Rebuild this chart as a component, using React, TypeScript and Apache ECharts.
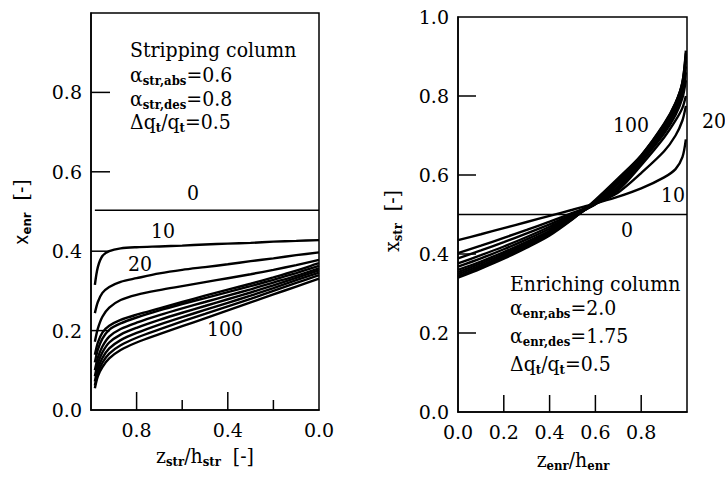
import React, { useEffect, useRef } from 'react';
import * as echarts from 'echarts';

const SERIF = 'DejaVu Serif';
const SANS = 'DejaVu Sans';

// ---- Stripping column (left panel) ----
const X_STR = [0.983, 0.97, 0.95, 0.92, 0.87, 0.8, 0.7, 0.6, 0.5, 0.4, 0.3, 0.2, 0.1, 0.0];
const STR_0 = [0.503, 0.503, 0.503, 0.503, 0.503, 0.503, 0.503, 0.503, 0.503, 0.503, 0.503, 0.503, 0.503, 0.503];
const STR_10 = [0.315, 0.36, 0.388, 0.4, 0.407, 0.41, 0.412, 0.414, 0.417, 0.419, 0.421, 0.424, 0.426, 0.428];
const STR_20 = [0.244, 0.272, 0.295, 0.31, 0.323, 0.332, 0.344, 0.353, 0.36, 0.367, 0.375, 0.382, 0.39, 0.397];
const STR_30 = [0.172, 0.205, 0.235, 0.258, 0.277, 0.29, 0.302, 0.312, 0.322, 0.332, 0.342, 0.353, 0.365, 0.378];
const STR_40 = [0.139, 0.17, 0.195, 0.212, 0.227, 0.24, 0.256, 0.272, 0.288, 0.303, 0.318, 0.334, 0.351, 0.37];
const STR_50 = [0.12, 0.152, 0.18, 0.202, 0.218, 0.233, 0.251, 0.267, 0.282, 0.297, 0.312, 0.328, 0.345, 0.363];
const STR_60 = [0.1, 0.132, 0.16, 0.185, 0.204, 0.22, 0.239, 0.256, 0.272, 0.288, 0.304, 0.321, 0.338, 0.357];
const STR_70 = [0.085, 0.117, 0.145, 0.17, 0.19, 0.207, 0.227, 0.245, 0.262, 0.279, 0.296, 0.314, 0.333, 0.352];
const STR_80 = [0.072, 0.104, 0.131, 0.155, 0.176, 0.194, 0.215, 0.234, 0.252, 0.27, 0.288, 0.307, 0.327, 0.346];
const STR_90 = [0.062, 0.093, 0.119, 0.142, 0.163, 0.182, 0.203, 0.223, 0.242, 0.261, 0.28, 0.3, 0.32, 0.34];
const STR_100 = [0.055, 0.085, 0.108, 0.13, 0.151, 0.17, 0.191, 0.211, 0.231, 0.251, 0.271, 0.291, 0.311, 0.331];
const STR_CURVES = [STR_0, STR_10, STR_20, STR_30, STR_40, STR_50, STR_60, STR_70, STR_80, STR_90, STR_100];

// ---- Enriching column (right panel) ----
const X_ENR = [0, 0.1, 0.2, 0.3, 0.4, 0.5, 0.55, 0.6, 0.7, 0.8, 0.9, 0.95, 0.98, 0.995];
const ENR_0_X = [0, 1];
const ENR_0_Y = [0.5, 0.5];
const ENR_10 = [0.435, 0.45, 0.4655, 0.481, 0.4965, 0.512, 0.52, 0.528, 0.545, 0.566, 0.594, 0.615, 0.645, 0.69];
const ENR_20 = [0.402, 0.421, 0.441, 0.461, 0.482, 0.504, 0.515, 0.527, 0.556, 0.605, 0.66, 0.7, 0.738, 0.775];
const ENR_30 = [0.389, 0.409, 0.43, 0.452, 0.475, 0.5, 0.513, 0.527, 0.562, 0.625, 0.695, 0.738, 0.77, 0.8];
const ENR_40 = [0.376, 0.397, 0.419, 0.443, 0.469, 0.497, 0.511, 0.526, 0.566, 0.632, 0.705, 0.752, 0.795, 0.84];
const ENR_50 = [0.368, 0.389, 0.412, 0.437, 0.464, 0.494, 0.51, 0.527, 0.572, 0.637, 0.712, 0.762, 0.808, 0.86];
const ENR_60 = [0.36, 0.381, 0.405, 0.431, 0.459, 0.492, 0.51, 0.529, 0.578, 0.642, 0.718, 0.77, 0.818, 0.875];
const ENR_70 = [0.354, 0.376, 0.4, 0.427, 0.456, 0.491, 0.51, 0.531, 0.583, 0.645, 0.722, 0.776, 0.826, 0.89];
const ENR_80 = [0.349, 0.371, 0.396, 0.423, 0.453, 0.49, 0.51, 0.533, 0.586, 0.647, 0.726, 0.78, 0.831, 0.9];
const ENR_90 = [0.344, 0.367, 0.392, 0.419, 0.45, 0.489, 0.511, 0.535, 0.589, 0.649, 0.728, 0.782, 0.834, 0.908];
const ENR_100 = [0.34, 0.363, 0.388, 0.416, 0.447, 0.488, 0.512, 0.537, 0.592, 0.65, 0.73, 0.783, 0.835, 0.915];
const ENR_CURVES = [ENR_10, ENR_20, ENR_30, ENR_40, ENR_50, ENR_60, ENR_70, ENR_80, ENR_90, ENR_100];

// tick labels and tick positions
const LEFT_X_LABELS = ['0.8', '0.4', '0.0'];
const LEFT_Y_LABELS = ['0.0', '0.2', '0.4', '0.6', '0.8'];
const RIGHT_X_LABELS = ['0.0', '0.2', '0.4', '0.6', '0.8'];
const RIGHT_Y_LABELS = ['0.0', '0.2', '0.4', '0.6', '0.8', '1.0'];
const LEFT_X_MAJOR_TICKS = [0.8, 0.4];
const LEFT_X_MINOR_TICKS = [0.6, 0.2];
const LEFT_Y_TICKS = [0.2, 0.4, 0.6, 0.8];
const RIGHT_X_TICKS = [0.2, 0.4, 0.6, 0.8];
const RIGHT_Y_TICKS = [0.2, 0.4, 0.6, 0.8];

const fmt = (allowed: string[]) => (v: number) => {
  const s = (Math.round(v * 10) / 10).toFixed(1);
  return allowed.includes(s) ? s : '';
};

const RICH = {
  m: { fontFamily: SERIF, fontSize: 21, fill: '#000' },
  s: { fontFamily: SERIF, fontSize: 13, fontWeight: 'bold', fill: '#000', padding: [11, 0, 0, 0] },
  ms: { fontFamily: SANS, fontSize: 19, fill: '#000' },
  ss: { fontFamily: SANS, fontSize: 13, fontWeight: 'bold', fill: '#000', padding: [11, 0, 0, 0] },
};

const txt = (x: number, y: number, text: string, extra: any = {}) => ({
  type: 'text',
  x,
  y,
  z: 100,
  scaleX: 0.9,
  style: { text, rich: RICH, fontFamily: SERIF, fontSize: 21, fill: '#000', align: 'left', verticalAlign: 'middle', ...extra },
});

const axisLabelStyle = { fontFamily: SERIF, fontSize: 19, color: '#000' };

export default function App() {
  const ref = useRef<HTMLDivElement>(null);
  useEffect(() => {
    document.body.style.margin = '0';
    const chart = echarts.init(ref.current!, null, { renderer: 'svg' });
    const series: any[] = [];
    STR_CURVES.forEach((ys, i) => {
      series.push({
        type: 'line',
        xAxisIndex: 0,
        yAxisIndex: 0,
        showSymbol: false,
        smooth: 0.3,
        lineStyle: { color: '#000', width: i === 0 ? 1.5 : 2.4 },
        data: X_STR.map((x, j) => [x, ys[j]]),
      });
    });
    series.push({
      type: 'line',
      xAxisIndex: 1,
      yAxisIndex: 1,
      showSymbol: false,
      lineStyle: { color: '#000', width: 1.5 },
      data: ENR_0_X.map((x, j) => [x, ENR_0_Y[j]]),
    });
    ENR_CURVES.forEach((ys) => {
      series.push({
        type: 'line',
        xAxisIndex: 1,
        yAxisIndex: 1,
        showSymbol: false,
        smooth: 0.3,
        lineStyle: { color: '#000', width: 2.4 },
        data: X_ENR.map((x, j) => [x, ys[j]]),
      });
    });

    const line = { show: true, onZero: false, lineStyle: { color: '#000', width: 1.5 } };
    const option: any = {
      animation: false,
      backgroundColor: '#fff',
      grid: [
        { left: 91, top: 13, width: 228, height: 397, show: true, borderColor: '#000', borderWidth: 1.5 },
        { left: 458, top: 17, width: 229, height: 395, show: true, borderColor: '#000', borderWidth: 1.5 },
      ],
      xAxis: [
        {
          gridIndex: 0, type: 'value', min: 0, max: 1, interval: 0.2, inverse: true, position: 'bottom',
          axisLine: line,
          axisTick: { show: false },
          axisLabel: { ...axisLabelStyle, margin: 10, formatter: fmt(LEFT_X_LABELS) },
          splitLine: { show: false },
        },
        {
          gridIndex: 1, type: 'value', min: 0, max: 1, interval: 0.2, position: 'bottom',
          axisLine: line,
          axisTick: { show: false },
          axisLabel: { ...axisLabelStyle, margin: 10, formatter: fmt(RIGHT_X_LABELS) },
          splitLine: { show: false },
        },
      ],
      yAxis: [
        {
          gridIndex: 0, type: 'value', min: 0, max: 1, interval: 0.2, position: 'left',
          axisLine: line,
          axisTick: { show: false },
          axisLabel: { ...axisLabelStyle, margin: 9, formatter: fmt(LEFT_Y_LABELS) },
          splitLine: { show: false },
        },
        {
          gridIndex: 1, type: 'value', min: 0, max: 1, interval: 0.2, position: 'left',
          axisLine: line,
          axisTick: { show: false },
          axisLabel: { ...axisLabelStyle, margin: 9, formatter: fmt(RIGHT_Y_LABELS) },
          splitLine: { show: false },
        },
      ],
      series,
    };
    chart.setOption(option);

    // tick marks, placed through the axes' own scales
    const tickLine = (x1: number, y1: number, x2: number, y2: number) => ({
      type: 'line',
      z: 90,
      shape: { x1, y1, x2, y2 },
      style: { stroke: '#000', lineWidth: 1.5 },
    });
    const ticks: any[] = [];
    const L = { xAxisIndex: 0, yAxisIndex: 0 };
    const R = { xAxisIndex: 1, yAxisIndex: 1 };
    LEFT_X_MAJOR_TICKS.forEach((v) => {
      const p = chart.convertToPixel(L, [v, 0]) as number[];
      ticks.push(tickLine(p[0], p[1], p[0], p[1] - 18));
    });
    LEFT_X_MINOR_TICKS.forEach((v) => {
      const p = chart.convertToPixel(L, [v, 0]) as number[];
      ticks.push(tickLine(p[0], p[1], p[0], p[1] - 10));
    });
    LEFT_Y_TICKS.forEach((v) => {
      const p = chart.convertToPixel(L, [1, v]) as number[];
      ticks.push(tickLine(p[0], p[1], p[0] + 19, p[1]));
    });
    RIGHT_X_TICKS.forEach((v) => {
      const p = chart.convertToPixel(R, [v, 0]) as number[];
      ticks.push(tickLine(p[0], p[1], p[0], p[1] - 17));
    });
    RIGHT_Y_TICKS.forEach((v) => {
      const p = chart.convertToPixel(R, [0, v]) as number[];
      ticks.push(tickLine(p[0], p[1], p[0] + 18, p[1]));
    });

    chart.setOption({
      graphic: [
        ...ticks,
        // left annotation
        txt(130, 50, 'Stripping column'),
        txt(130, 75, '{m|α}{s|str,abs}{m|=0.6}'),
        txt(130, 99, '{m|α}{s|str,des}{m|=0.8}'),
        txt(130, 122, '{m|Δq}{s|t}{m|/q}{s|t}{m|=0.5}'),
        // right annotation
        txt(510, 284, 'Enriching column'),
        txt(510, 308, '{m|α}{s|enr,abs}{m|=2.0}'),
        txt(510, 336, '{m|α}{s|enr,des}{m|=1.75}'),
        txt(510, 364, '{m|Δq}{s|t}{m|/q}{s|t}{m|=0.5}'),
        // curve labels left
        txt(193, 193, '0', { align: 'center' }),
        txt(163, 231, '10', { align: 'center' }),
        txt(140, 264, '20', { align: 'center' }),
        txt(225, 329, '100', { align: 'center' }),
        // curve labels right
        txt(631, 125, '100', { align: 'center' }),
        txt(714, 121, '20', { align: 'center' }),
        txt(673, 195, '10', { align: 'center' }),
        txt(627, 230, '0', { align: 'center' }),
        // axis names
        txt(205, 456, '{m|z}{s|str}{m|/h}{s|str}{m|  [-]}', { align: 'center' }),
        txt(573, 460, '{m|z}{s|enr}{m|/h}{s|enr}', { align: 'center' }),
        { ...txt(21, 212, '{ms|x}{ss|enr}{m|  [-]}', { align: 'center' }), rotation: Math.PI / 2 },
        { ...txt(392, 221, '{m|x}{s|str}{m|  [-]}', { align: 'center' }), rotation: Math.PI / 2 },
      ],
    });
    return () => chart.dispose();
  }, []);
  return <div ref={ref} style={{ width: 725, height: 477 }} />;
}
